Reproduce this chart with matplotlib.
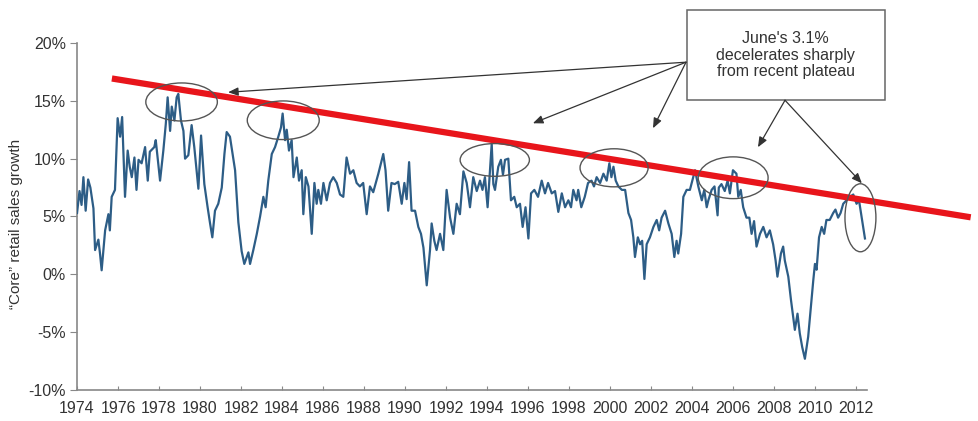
import matplotlib
matplotlib.use('Agg')
import matplotlib.pyplot as plt
from matplotlib.patches import Ellipse, Rectangle

plt.rcParams['font.family'] = ['Liberation Sans', 'DejaVu Sans']

# "core" retail sales growth, % y/y
years = [
    1974.00, 1974.12, 1974.22, 1974.31, 1974.42, 1974.54, 1974.65, 1974.80, 1974.88, 1975.04,
    1975.12, 1975.20, 1975.37, 1975.53, 1975.60, 1975.69, 1975.85, 1975.98, 1976.10, 1976.20,
    1976.34, 1976.47, 1976.57, 1976.67, 1976.80, 1976.90, 1977.00, 1977.15, 1977.32, 1977.45,
    1977.55, 1977.77, 1977.84, 1978.05, 1978.21, 1978.33, 1978.42, 1978.54, 1978.62, 1978.75,
    1978.86, 1978.94, 1979.07, 1979.19, 1979.27, 1979.43, 1979.59, 1979.72, 1979.92, 1980.05,
    1980.21, 1980.37, 1980.49, 1980.60, 1980.73, 1980.89, 1981.06, 1981.19, 1981.30, 1981.46,
    1981.71, 1981.87, 1982.03, 1982.16, 1982.36, 1982.44, 1982.60, 1982.77, 1982.93, 1983.09,
    1983.20, 1983.33, 1983.50, 1983.66, 1983.82, 1983.95, 1984.03, 1984.15, 1984.23, 1984.34,
    1984.47, 1984.56, 1984.72, 1984.83, 1984.96, 1985.04, 1985.16, 1985.29, 1985.45, 1985.58,
    1985.69, 1985.77, 1985.90, 1986.02, 1986.18, 1986.34, 1986.50, 1986.67, 1986.83, 1986.99,
    1987.15, 1987.32, 1987.48, 1987.64, 1987.80, 1987.96, 1988.13, 1988.29, 1988.45, 1988.70,
    1988.94, 1989.05, 1989.18, 1989.34, 1989.50, 1989.67, 1989.84, 1989.97, 1990.08, 1990.20,
    1990.32, 1990.49, 1990.65, 1990.78, 1990.90, 1991.06, 1991.22, 1991.30, 1991.43, 1991.54,
    1991.71, 1991.87, 1992.03, 1992.20, 1992.36, 1992.52, 1992.68, 1992.85, 1993.01, 1993.17,
    1993.33, 1993.50, 1993.66, 1993.78, 1993.90, 1994.03, 1994.23, 1994.31, 1994.39, 1994.55,
    1994.68, 1994.78, 1994.88, 1995.04, 1995.17, 1995.33, 1995.45, 1995.61, 1995.74, 1995.88,
    1996.02, 1996.15, 1996.31, 1996.49, 1996.67, 1996.83, 1996.98, 1997.16, 1997.32, 1997.48,
    1997.65, 1997.81, 1997.97, 1998.10, 1998.21, 1998.37, 1998.45, 1998.60, 1998.77, 1998.93,
    1999.10, 1999.22, 1999.35, 1999.52, 1999.68, 1999.84, 1999.97, 2000.07, 2000.17, 2000.28,
    2000.41, 2000.58, 2000.74, 2000.90, 2001.03, 2001.14, 2001.22, 2001.36, 2001.47, 2001.57,
    2001.68, 2001.79, 2001.95, 2002.12, 2002.28, 2002.40, 2002.52, 2002.69, 2002.85, 2003.01,
    2003.14, 2003.25, 2003.33, 2003.47, 2003.58, 2003.74, 2003.90, 2004.02, 2004.15, 2004.31,
    2004.48, 2004.60, 2004.72, 2004.80, 2004.96, 2005.10, 2005.25, 2005.31, 2005.44, 2005.60,
    2005.74, 2005.85, 2006.00, 2006.17, 2006.26, 2006.38, 2006.50, 2006.66, 2006.80, 2006.91,
    2007.03, 2007.15, 2007.32, 2007.48, 2007.64, 2007.80, 2007.96, 2008.08, 2008.17, 2008.34,
    2008.45, 2008.53, 2008.70, 2008.83, 2008.94, 2009.02, 2009.15, 2009.26, 2009.38, 2009.51,
    2009.67, 2009.80, 2009.92, 2010.00, 2010.08, 2010.20, 2010.33, 2010.45, 2010.56, 2010.72,
    2010.89, 2011.00, 2011.13, 2011.25, 2011.38, 2011.54, 2011.70, 2011.87, 2012.03, 2012.15,
    2012.28, 2012.44,
]
growth = [
    5.3, 7.2, 6.0, 8.4, 5.5, 8.2, 7.5, 5.7, 2.1, 3.0,
    1.8, 0.35, 3.8, 5.2, 3.8, 6.7, 7.3, 13.5, 11.9, 13.6,
    6.7, 10.7, 9.3, 8.4, 10.1, 7.3, 9.9, 9.6, 11.0, 8.1,
    10.6, 11.0, 11.6, 8.1, 10.7, 13.0, 15.3, 12.4, 14.5, 13.3,
    15.3, 15.6, 13.3, 12.4, 10.0, 10.3, 12.9, 11.0, 7.4, 12.0,
    7.8, 5.8, 4.4, 3.2, 5.5, 6.1, 7.5, 10.4, 12.3, 11.9,
    9.0, 4.5, 2.0, 0.9, 1.9, 0.9, 2.1, 3.5, 5.0, 6.7,
    5.8, 8.1, 10.4, 11.0, 11.9, 12.7, 13.9, 11.6, 12.5, 10.7,
    11.6, 8.4, 10.1, 8.1, 9.0, 5.2, 8.4, 7.6, 3.5, 7.9,
    6.1, 7.3, 6.1, 7.9, 6.4, 7.9, 8.4, 7.9, 6.9, 6.7,
    10.1, 8.7, 9.0, 7.9, 7.6, 7.9, 5.2, 7.6, 7.1, 8.7,
    10.4, 9.0, 5.5, 7.9, 7.8, 8.0, 6.1, 7.9, 6.5, 9.7,
    5.5, 5.5, 4.1, 3.5, 2.3, -0.95, 2.1, 4.4, 2.9, 2.1,
    3.5, 2.1, 7.3, 4.9, 3.5, 6.1, 5.2, 8.9, 7.9, 5.8,
    8.4, 7.2, 8.1, 7.3, 8.4, 5.8, 11.3, 7.8, 7.3, 9.3,
    9.9, 8.6, 9.9, 10.0, 6.4, 6.7, 5.8, 6.1, 4.1, 5.8,
    3.1, 7.0, 7.3, 6.7, 8.1, 7.0, 7.9, 7.0, 7.2, 5.4,
    7.0, 5.8, 6.4, 5.8, 7.3, 6.4, 7.3, 5.8, 6.7, 7.9,
    8.1, 7.6, 8.4, 7.9, 8.7, 8.1, 9.6, 8.4, 9.3, 8.1,
    7.6, 7.3, 7.3, 5.3, 4.7, 3.2, 1.5, 3.2, 2.6, 2.9,
    -0.4, 2.6, 3.2, 4.1, 4.7, 3.8, 4.9, 5.5, 4.4, 3.5,
    1.5, 2.9, 1.8, 3.5, 6.7, 7.3, 7.3, 8.1, 9.0, 7.6,
    6.4, 7.3, 5.8, 6.4, 7.3, 7.6, 5.1, 7.5, 7.8, 7.2,
    8.1, 7.0, 9.0, 8.7, 6.7, 7.3, 5.8, 4.9, 4.9, 3.5,
    4.6, 2.4, 3.5, 4.1, 3.2, 3.8, 2.6, 1.2, -0.2, 1.8,
    2.4, 1.2, -0.2, -2.2, -3.7, -4.8, -3.4, -5.1, -6.3, -7.3,
    -5.4, -2.8, -0.5, 0.9, 0.4, 3.2, 4.1, 3.5, 4.7, 4.7,
    5.3, 5.6, 4.9, 5.3, 6.1, 6.4, 6.7, 6.9, 6.1, 6.4,
    4.9, 3.1,
]

# red trend line end points
trend_x = [1975.7, 2017.6]
trend_y = [16.93, 4.93]

# circled peaks: centre year, centre value, width (years), height (pts)
circles = [
    (1979.10, 14.90, 3.49, 3.29),
    (1984.06, 13.32, 3.51, 3.34),
    (1994.38, 9.89, 3.38, 2.83),
    (2000.20, 9.21, 3.32, 3.29),
    (2006.01, 8.35, 3.41, 3.61),
    (2012.22, 4.89, 1.51, 5.88),
]

note = "June's 3.1%\ndecelerates sharply\nfrom recent plateau"
# arrows: start -> end
arrows = [
    ((2003.71, 18.34), (1981.37, 15.74)),
    ((2003.71, 18.34), (1996.24, 13.06)),
    ((2003.71, 18.34), (2002.10, 12.63)),
    ((2008.54, 15.05), (2007.22, 10.99)),
    ((2008.54, 15.05), (2012.29, 7.87)),
]

fig = plt.figure(figsize=(9.79, 4.21), dpi=100)
ax = fig.add_axes([0.0787, 0.0736, 0.8069, 0.8243])

ax.plot(years, growth, color='#2d5d86', lw=1.6, zorder=3)
ax.plot(trend_x, trend_y, color='#e8151b', lw=4.5, solid_capstyle='butt',
        clip_on=False, zorder=4)

for cx, cy, w, h in circles:
    ax.add_patch(Ellipse((cx, cy), w, h, fill=False, ec='#555555', lw=1.0,
                         clip_on=False, zorder=5))

# text box
ax.add_patch(Rectangle((2003.74, 15.05), 9.67, 7.79, fc='white', ec='#666666',
                       lw=1.1, clip_on=False, zorder=6))
ax.text(2008.57, 18.95, note, ha='center', va='center', fontsize=11.5,
        color='#333333', linespacing=1.15, zorder=7, clip_on=False)

for (x0, y0), (x1, y1) in arrows:
    ax.annotate('', xy=(x1, y1), xytext=(x0, y0), annotation_clip=False,
                arrowprops=dict(arrowstyle='-|>,head_length=0.6,head_width=0.25',
                                color='#333333', lw=0.9, shrinkA=0, shrinkB=0),
                zorder=6)

ax.set_xlim(1974, 2012.54)
ax.set_ylim(-10, 20)
ax.set_xticks(range(1974, 2013, 2))
ax.set_yticks(range(-10, 21, 5))
ax.set_yticklabels([f'{v}%' for v in range(-10, 21, 5)])

for s in ['top', 'right']:
    ax.spines[s].set_visible(False)
for s in ['left', 'bottom']:
    ax.spines[s].set_color('#888888')
    ax.spines[s].set_linewidth(1.2)

ax.tick_params(axis='x', direction='in', length=3, color='#888888',
               labelsize=11.5, labelcolor='#333333', pad=8)
ax.tick_params(axis='y', direction='out', length=5, color='#888888',
               labelsize=11.5, labelcolor='#333333', pad=3)

ax.set_ylabel('“Core” retail sales growth', fontsize=11, color='#333333')
ax.yaxis.set_label_coords(-0.068, 0.48)

fig.savefig('out.png', dpi=100)
